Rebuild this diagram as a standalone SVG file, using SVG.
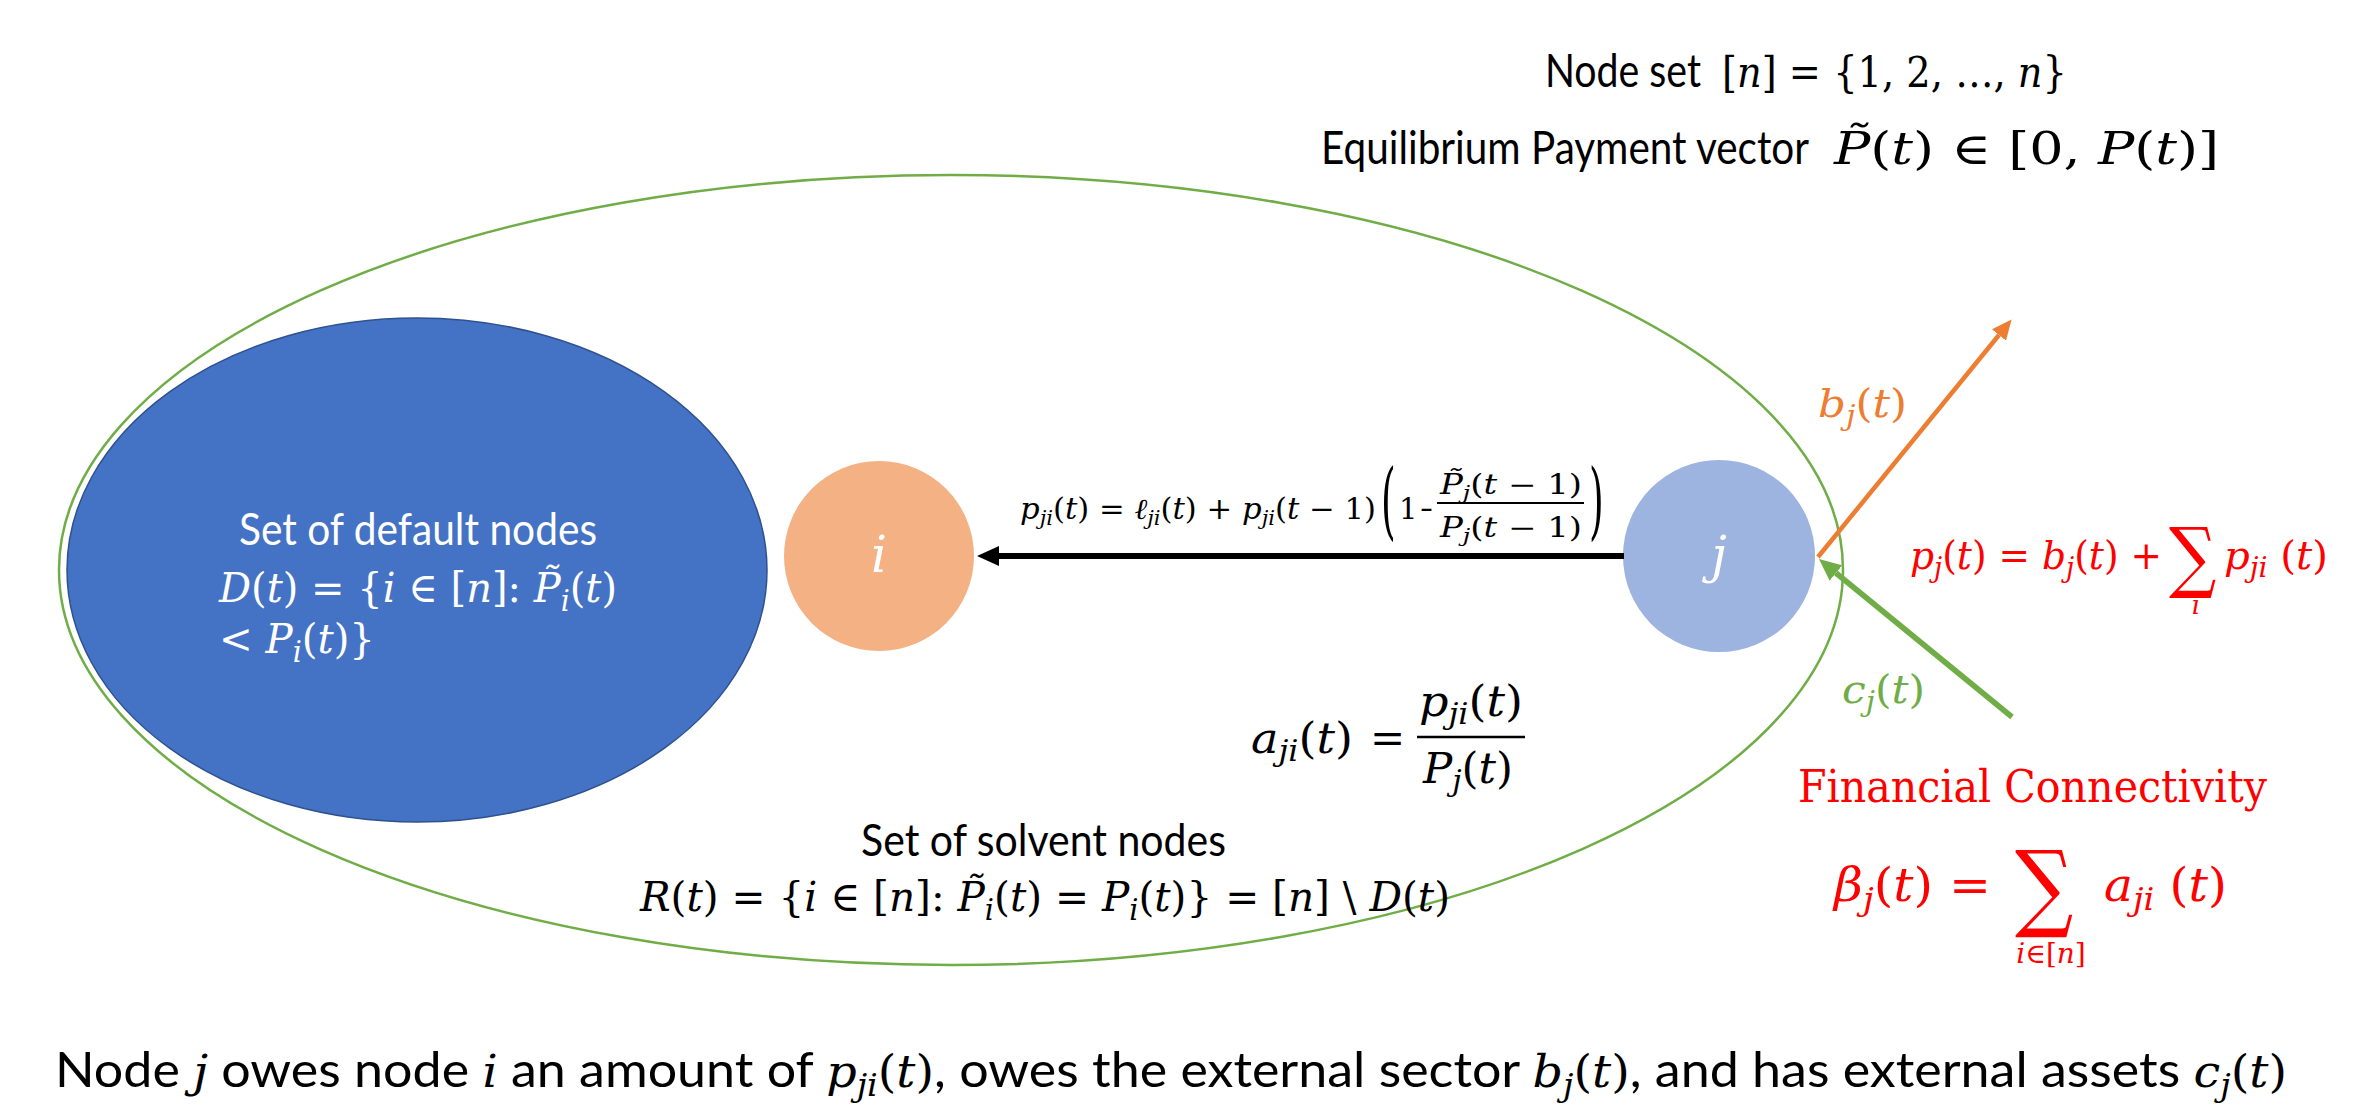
<svg xmlns="http://www.w3.org/2000/svg" width="2375" height="1109" viewBox="0 0 2375 1109">
<style>
.t{font-family:Lato,'Liberation Sans',sans-serif;}
.m{font-family:'DejaVu Serif','Liberation Serif',serif;font-style:italic;}
.s{font-family:'DejaVu Serif','Liberation Serif',serif;font-style:normal;}
.r{font-style:normal;}
.w{fill:#ffffff;}
.k{fill:#000000;}
.red{fill:#FF0000;}
.org{fill:#ED7D31;}
.grn{fill:#70AD47;}
</style>
<defs>
<marker id="ahK" markerUnits="userSpaceOnUse" markerWidth="24" markerHeight="20" refX="0" refY="10" orient="auto"><path d="M0,0 L22,10 L0,20 z" fill="#000000"/></marker>
<marker id="ahO" markerUnits="userSpaceOnUse" markerWidth="22" markerHeight="18" refX="0" refY="9" orient="auto"><path d="M0,0 L20,9 L0,18 z" fill="#ED7D31"/></marker>
<marker id="ahG" markerUnits="userSpaceOnUse" markerWidth="24" markerHeight="20" refX="0" refY="10" orient="auto"><path d="M0,0 L22,10 L0,20 z" fill="#70AD47"/></marker>
</defs>
<rect width="2375" height="1109" fill="#ffffff"/>

<g id="header">
<text class="t k" x="1545" y="87" font-size="46" textLength="156" lengthAdjust="spacingAndGlyphs">Node set</text>
<text class="m k" x="1722" y="87" font-size="42" textLength="345" lengthAdjust="spacingAndGlyphs"><tspan class="r">[</tspan>n<tspan class="r">] = {1, 2, …, </tspan>n<tspan class="r">}</tspan></text>
<text class="t k" x="1321" y="164" font-size="46" textLength="488" lengthAdjust="spacingAndGlyphs">Equilibrium Payment vector</text>
<text class="m k" x="1834" y="164" font-size="44" textLength="385" lengthAdjust="spacingAndGlyphs">P̃<tspan class="r">(</tspan>t<tspan class="r">) ∈ [0, </tspan>P<tspan class="r">(</tspan>t<tspan class="r">)]</tspan></text>
</g>

<g id="solvent-set">
<ellipse cx="951" cy="570" rx="892" ry="395" fill="none" stroke="#70AD47" stroke-width="2.5"/>
<text class="t k" x="861" y="856" font-size="44" textLength="365" lengthAdjust="spacingAndGlyphs">Set of solvent nodes</text>
<text class="m k" x="640" y="911" font-size="41" textLength="810" lengthAdjust="spacingAndGlyphs">R<tspan class="r">(</tspan>t<tspan class="r">) = {</tspan>i<tspan class="r"> ∈ [</tspan>n<tspan class="r">]: </tspan>P̃<tspan font-size="29" dy="9">i</tspan><tspan class="r" dy="-9">(</tspan>t<tspan class="r">) = </tspan>P<tspan font-size="29" dy="9">i</tspan><tspan class="r" dy="-9">(</tspan>t<tspan class="r">)} = [</tspan>n<tspan class="r">] \ </tspan>D<tspan class="r">(</tspan>t<tspan class="r">)</tspan></text>
</g>

<g id="default-set">
<ellipse cx="417" cy="570" rx="350" ry="252" fill="#4472C4" stroke="#2F528F" stroke-width="1.5"/>
<text class="t w" x="239" y="545" font-size="44" textLength="358" lengthAdjust="spacingAndGlyphs">Set of default nodes</text>
<text class="m w" x="219" y="602" font-size="41" textLength="398" lengthAdjust="spacingAndGlyphs">D<tspan class="r">(</tspan>t<tspan class="r">) = {</tspan>i<tspan class="r"> ∈ [</tspan>n<tspan class="r">]: </tspan>P̃<tspan font-size="29" dy="9">i</tspan><tspan class="r" dy="-9">(</tspan>t<tspan class="r">)</tspan></text>
<text class="m w" x="219" y="653" font-size="41" textLength="156" lengthAdjust="spacingAndGlyphs"><tspan class="r">&lt; </tspan>P<tspan font-size="29" dy="9">i</tspan><tspan class="r" dy="-9">(</tspan>t<tspan class="r">)}</tspan></text>
</g>

<g id="node-i">
<circle cx="879" cy="556" r="95" fill="#F4B183"/>
<text class="m w" x="879" y="572" font-size="50" text-anchor="middle">i</text>
</g>

<g id="node-j">
<circle cx="1719" cy="556" r="96" fill="#9DB3E0"/>
<text class="m w" x="1719" y="572" font-size="50" text-anchor="middle">j</text>
</g>

<g id="connectors">
<line x1="1624" y1="556" x2="999" y2="556" stroke="#000000" stroke-width="6" marker-end="url(#ahK)"/>
<line x1="1818" y1="557" x2="1999" y2="335" stroke="#ED7D31" stroke-width="4.5" marker-end="url(#ahO)"/>
<line x1="2012" y1="717" x2="1836" y2="573" stroke="#70AD47" stroke-width="5.5" marker-end="url(#ahG)"/>
</g>

<g id="label-pji">
<text class="m k" x="1020" y="519" font-size="29" textLength="356" lengthAdjust="spacingAndGlyphs">p<tspan font-size="20" dy="6">ji</tspan><tspan class="r" dy="-6">(</tspan>t<tspan class="r">) = </tspan>ℓ<tspan font-size="20" dy="6">ji</tspan><tspan class="r" dy="-6">(</tspan>t<tspan class="r">) + </tspan>p<tspan font-size="20" dy="6">ji</tspan><tspan class="r" dy="-6">(</tspan>t<tspan class="r"> − 1)</tspan></text>
<text class="s k" font-size="84" transform="translate(1381,529) scale(0.45,1)">(</text>
<text class="s k" x="1399" y="519" font-size="29">1</text>
<text class="s k" x="1420" y="519" font-size="29" textLength="13" lengthAdjust="spacingAndGlyphs">−</text>
<line x1="1437" y1="503" x2="1584" y2="503" stroke="#000000" stroke-width="1.8"/>
<text class="m k" x="1511" y="494" font-size="27" text-anchor="middle" textLength="142" lengthAdjust="spacingAndGlyphs">P̃<tspan font-size="19" dy="5">j</tspan><tspan class="r" dy="-5">(</tspan>t<tspan class="r"> − 1)</tspan></text>
<text class="m k" x="1511" y="537" font-size="27" text-anchor="middle" textLength="142" lengthAdjust="spacingAndGlyphs">P<tspan font-size="19" dy="5">j</tspan><tspan class="r" dy="-5">(</tspan>t<tspan class="r"> − 1)</tspan></text>
<text class="s k" font-size="84" transform="translate(1589,529) scale(0.45,1)">)</text>
</g>

<g id="label-pj">
<text class="m red" x="1910" y="569" font-size="40" textLength="252" lengthAdjust="spacingAndGlyphs">p<tspan font-size="28" dy="8">j</tspan><tspan class="r" dy="-8">(</tspan>t<tspan class="r">) = </tspan>b<tspan font-size="28" dy="8">j</tspan><tspan class="r" dy="-8">(</tspan>t<tspan class="r">) +</tspan></text>
<text class="s red" font-size="78" transform="translate(2169,583) scale(0.85,1)">∑</text>
<text class="m red" x="2196" y="614" font-size="26" text-anchor="middle">i</text>
<text class="m red" x="2224" y="569" font-size="40" textLength="104" lengthAdjust="spacingAndGlyphs">p<tspan font-size="28" dy="8">ji</tspan><tspan class="r" dy="-8"> (</tspan>t<tspan class="r">)</tspan></text>
</g>

<g id="label-bj">
<text class="m org" x="1818" y="417" font-size="40" textLength="89" lengthAdjust="spacingAndGlyphs">b<tspan font-size="28" dy="8">j</tspan><tspan class="r" dy="-8">(</tspan>t<tspan class="r">)</tspan></text>
</g>

<g id="label-cj">
<text class="m grn" x="1842" y="703" font-size="40" textLength="83" lengthAdjust="spacingAndGlyphs">c<tspan font-size="28" dy="8">j</tspan><tspan class="r" dy="-8">(</tspan>t<tspan class="r">)</tspan></text>
</g>

<g id="label-aji">
<text class="m k" x="1251" y="753" font-size="42" textLength="102" lengthAdjust="spacingAndGlyphs">a<tspan font-size="29" dy="8">ji</tspan><tspan class="r" dy="-8">(</tspan>t<tspan class="r">)</tspan></text>
<text class="s k" x="1370" y="753" font-size="42">=</text>
<line x1="1417" y1="737" x2="1525" y2="737" stroke="#000000" stroke-width="2.4"/>
<text class="m k" x="1471" y="716" font-size="42" text-anchor="middle" textLength="104" lengthAdjust="spacingAndGlyphs">p<tspan font-size="29" dy="8">ji</tspan><tspan class="r" dy="-8">(</tspan>t<tspan class="r">)</tspan></text>
<text class="m k" x="1468" y="783" font-size="42" text-anchor="middle" textLength="90" lengthAdjust="spacingAndGlyphs">P<tspan font-size="29" dy="8">j</tspan><tspan class="r" dy="-8">(</tspan>t<tspan class="r">)</tspan></text>
</g>

<g id="financial-connectivity">
<text class="s red" x="1798" y="802" font-size="45" textLength="469" lengthAdjust="spacingAndGlyphs">Financial Connectivity</text>
<text class="m red" x="1834" y="901" font-size="46" textLength="157" lengthAdjust="spacingAndGlyphs">β<tspan font-size="32" dy="9">j</tspan><tspan class="r" dy="-9">(</tspan>t<tspan class="r">) =</tspan></text>
<text class="s red" font-size="96" transform="translate(2015,919) scale(0.85,1)">∑</text>
<text class="m red" x="2051" y="963" font-size="28" text-anchor="middle">i<tspan class="r">∈[</tspan>n<tspan class="r">]</tspan></text>
<text class="m red" x="2104" y="901" font-size="46" textLength="123" lengthAdjust="spacingAndGlyphs">a<tspan font-size="32" dy="9">ji</tspan><tspan class="r" dy="-9"> (</tspan>t<tspan class="r">)</tspan></text>
</g>

<g id="caption">
<text class="t k" x="55" y="1087" font-size="48" textLength="2232" lengthAdjust="spacingAndGlyphs">Node <tspan class="m" font-size="44">j</tspan> owes node <tspan class="m" font-size="44">i</tspan> an amount of <tspan class="m" font-size="44">p</tspan><tspan class="m" font-size="31" dy="9">ji</tspan><tspan class="s" font-size="44" dy="-9">(</tspan><tspan class="m" font-size="44">t</tspan><tspan class="s" font-size="44">)</tspan>, owes the external sector <tspan class="m" font-size="44">b</tspan><tspan class="m" font-size="31" dy="9">j</tspan><tspan class="s" font-size="44" dy="-9">(</tspan><tspan class="m" font-size="44">t</tspan><tspan class="s" font-size="44">)</tspan>, and has external assets <tspan class="m" font-size="44">c</tspan><tspan class="m" font-size="31" dy="9">j</tspan><tspan class="s" font-size="44" dy="-9">(</tspan><tspan class="m" font-size="44">t</tspan><tspan class="s" font-size="44">)</tspan></text>
</g>
</svg>
